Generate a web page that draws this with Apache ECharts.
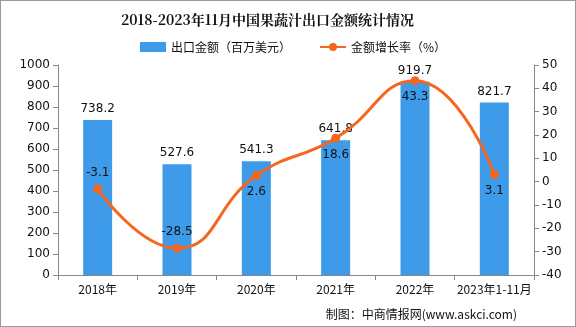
<!DOCTYPE html>
<html><head><meta charset="utf-8">
<script src="https://cdn.jsdelivr.net/npm/echarts@6/dist/echarts.min.js"></script>
<style>html,body{margin:0;padding:0;background:#fff}#c{width:576px;height:327px;box-sizing:border-box;border:1px solid #999}</style>
</head><body><div id="c"></div>
<script>
const categories = ['2018年','2019年','2020年','2021年','2022年','2023年1-11月'];
const exportValues = [738.2, 527.6, 541.3, 641.8, 919.7, 821.7];
const growthRates = [-3.1, -28.5, 2.6, 18.6, 43.3, 3.1];
const growthLabelPos = ['top','top','bottom','bottom','bottom','bottom'];
const leftTicks = {min:0, max:1000, interval:100};
const rightTicks = {min:-40, max:50, interval:10};

const chart = echarts.init(document.getElementById('c'), null, {renderer:'canvas'});
const font = '"DejaVu Sans", sans-serif';
chart.setOption({
  animation:false,
  title:{text:'2018-2023年11月中国果蔬汁出口金额统计情况', left:115, top:7,
    textStyle:{fontSize:14, fontWeight:'bold', color:'#111', fontFamily:'"Noto Serif CJK SC","Noto Sans CJK SC",serif'}},
  legend:{top:35, left:134, itemGap:28, itemWidth:26, itemHeight:10,
    textStyle:{fontSize:12, color:'#111', fontFamily:'"Noto Sans CJK SC"'},
    data:[{name:'出口金额（百万美元）', icon:'rect'},{name:'金额增长率（%）'}]},
  grid:{left:57, right:41, top:64, bottom:51},
  xAxis:{type:'category', data:categories,
    axisLine:{lineStyle:{color:'#888'}}, axisTick:{show:true, lineStyle:{color:'#888'}},
    axisLabel:{color:'#111', fontSize:12, fontFamily:'"Noto Sans CJK SC"', margin:8, interval:0}},
  yAxis:[
    {type:'value', min:leftTicks.min, max:leftTicks.max, interval:leftTicks.interval,
     axisLine:{show:true, lineStyle:{color:'#888'}}, axisTick:{show:true, lineStyle:{color:'#888'}},
     splitLine:{show:false}, axisLabel:{color:'#111', fontSize:12, fontFamily:font, formatter:v=>String(v)}},
    {type:'value', min:rightTicks.min, max:rightTicks.max, interval:rightTicks.interval,
     axisLine:{show:true, lineStyle:{color:'#888'}}, axisTick:{show:true, lineStyle:{color:'#888'}},
     splitLine:{show:false}, axisLabel:{color:'#111', fontSize:12, fontFamily:font, formatter:v=>String(v)}}
  ],
  series:[
    {name:'出口金额（百万美元）', type:'bar', data:exportValues, barWidth:29,
     itemStyle:{color:'#3d9be9'},
     label:{show:true, position:'top', color:'#111', fontSize:12, fontFamily:font, formatter:p=>p.value.toFixed(1)}},
    {name:'金额增长率（%）', type:'line', yAxisIndex:1, smooth:true,
     data:growthRates.map((v,i)=>({value:v, label:{position:growthLabelPos[i]}})),
     symbol:'circle', symbolSize:9,
     lineStyle:{color:'#f5661f', width:3}, itemStyle:{color:'#f5661f'},
     label:{show:true, color:'#111', fontSize:12, fontFamily:font, distance:6, formatter:p=>p.value.toFixed(1)}}
  ],
  graphic:[{type:'text', right:58, bottom:6,
    style:{text:'制图：中商情报网(www.askci.com)', fill:'#111', font:'12px "Noto Sans CJK SC"'}}]
});
</script></body></html>
